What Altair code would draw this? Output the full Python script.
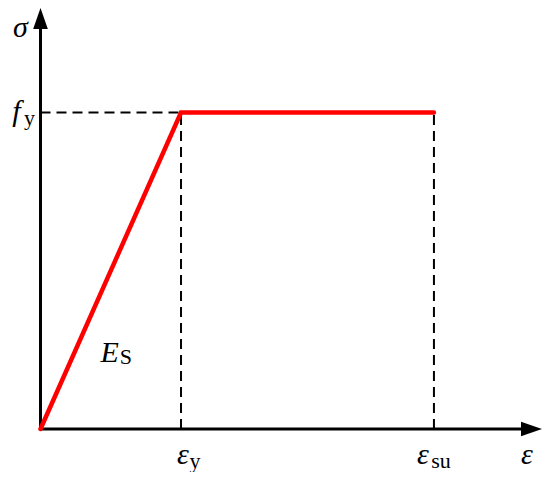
import altair as alt
import pandas as pd

# values (in units of yield strain / yield stress)
eps_y = 1.0
eps_su = 2.8
f_y = 1.0

curve_strain = [0.0, eps_y, eps_su]
curve_stress = [0.0, f_y, f_y]

x_dom = [-0.2313, 3.569]
y_dom = [-0.1359, 1.3302]

W, H = 534, 464
FONT = "Liberation Serif"

xs = alt.Scale(domain=x_dom, nice=False, zero=False)
ys = alt.Scale(domain=y_dom, nice=False, zero=False)

def X(f="x"):
    return alt.X(f"{f}:Q", scale=xs, axis=None)

def Y(f="y"):
    return alt.Y(f"{f}:Q", scale=ys, axis=None)

curve = pd.DataFrame({"x": curve_strain, "y": curve_stress})

red = alt.Chart(curve).mark_line(color="#ff0000", strokeWidth=4.5, strokeCap="round").encode(
    x=X(), y=Y(), order=alt.Order("x:Q"))

# dashed guide lines
dash_h = pd.DataFrame({"x": [0.0], "x2": [eps_y], "y": [f_y]})
dash_v = pd.DataFrame({"x": [eps_y, eps_su], "y": [0.0, 0.0], "y2": [f_y, f_y]})
dh = alt.Chart(dash_h).mark_rule(color="black", strokeWidth=2, strokeDash=[10, 6]).encode(
    x=X(), x2="x2:Q", y=Y())
dv = alt.Chart(dash_v).mark_rule(color="black", strokeWidth=2, strokeDash=[10, 6]).encode(
    x=X(), y=Y(), y2="y2:Q")

# axes with arrows
ax_x = alt.Chart(pd.DataFrame({"x": [0.0], "x2": [3.50], "y": [0.0]})).mark_rule(
    color="black", strokeWidth=3).encode(x=X(), x2="x2:Q", y=Y())
ax_y = alt.Chart(pd.DataFrame({"x": [0.0], "y": [0.0], "y2": [1.28]})).mark_rule(
    color="black", strokeWidth=3).encode(x=X(), y=Y(), y2="y2:Q")

arrow_shape = "M0,0 L-0.7,2 L0.7,2 Z"
arr_y = alt.Chart(pd.DataFrame({"x": [0.0], "y": [y_dom[1]]})).mark_point(
    shape=arrow_shape, size=440, filled=True, color="black", opacity=1, strokeWidth=0).encode(
    x=X(), y=Y())
arr_x = alt.Chart(pd.DataFrame({"x": [x_dom[1]], "y": [0.0]})).mark_point(
    shape=arrow_shape, size=440, filled=True, color="black", opacity=1, strokeWidth=0, angle=90).encode(
    x=X(), y=Y())

def label(txt, x, y, dx, dy, size=30, italic=True):
    return alt.Chart(pd.DataFrame({"x": [x], "y": [y], "t": [txt]})).mark_text(
        font=FONT, fontSize=size, fontStyle="italic" if italic else "normal",
        align="center", baseline="alphabetic", dx=dx, dy=dy, color="black").encode(
        x=X(), y=Y(), text="t:N")

labels = [
    label("σ", 0.0, y_dom[1], -20, 29),
    label("f", 0.0, f_y, -24, 8),
    label("y", 0.0, f_y, -11, 12, size=22, italic=False),
    label("E", 0.5, 0.0, -1, -67),
    label("S", 0.5, 0.0, 15, -65, size=22, italic=False),
    label("ε", eps_y, 0.0, 2, 35),
    label("y", eps_y, 0.0, 14, 39, size=22, italic=False),
    label("ε", eps_su, 0.0, -11, 35),
    label("su", eps_su, 0.0, 7, 39, size=22, italic=False),
    label("ε", x_dom[1], 0.0, -15, 35),
]

chart = alt.layer(dh, dv, ax_x, ax_y, arr_x, arr_y, red, *labels).properties(
    width=W, height=H, padding=0, autosize=alt.AutoSizeParams(type="none"),
    background="white",
).configure_view(stroke=None)

chart.save("out.html", embed_options={"renderer": "svg", "actions": False})
